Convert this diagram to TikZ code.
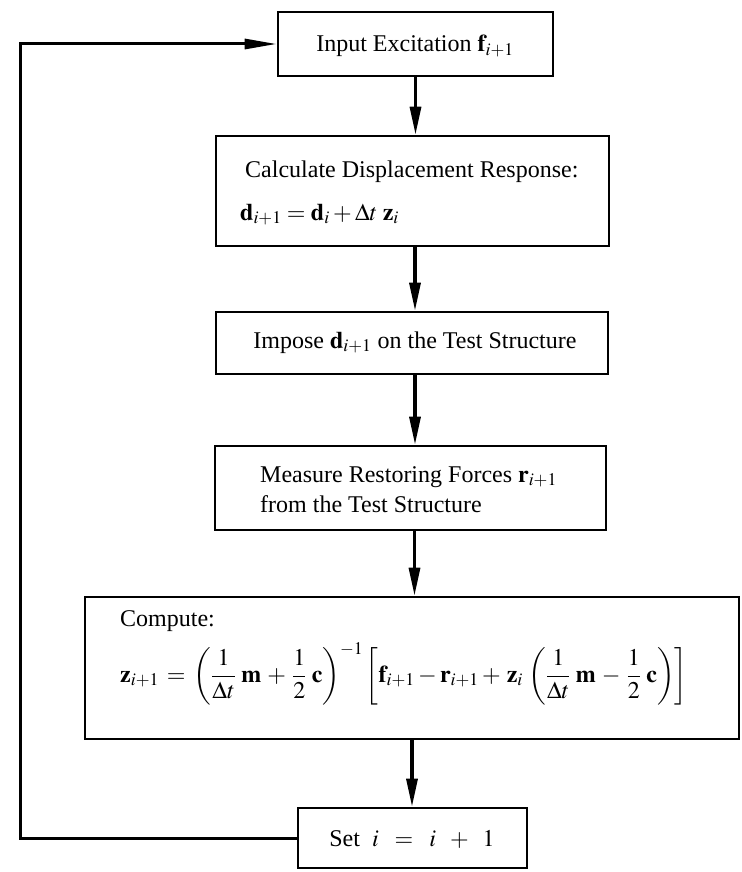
\documentclass[tikz,border=0pt]{standalone}
\usepackage{mathptmx}
\usepackage{fontspec}
\setmainfont{Liberation Serif}
\usetikzlibrary{arrows.meta,calc}
\begin{document}
\begin{tikzpicture}[x=1pt,y=-1pt,
  box/.style={draw, line width=2.6pt, inner sep=0pt},
  txt/.style={inner sep=0pt, font=\fontsize{24}{29}\selectfont},
  arr/.style={line width=3.2pt, -{Triangle[length=28pt,width=11pt]}},
  back/.style={line width=3pt, -{Triangle[length=32pt,width=10pt]}}
]
\useasboundingbox (0,0) rectangle (741,872);
% boxes
\node[box, minimum width=275pt, minimum height=64pt] (b1) at (415.5,44) {};
\node[box, minimum width=393pt, minimum height=110pt] (b2) at (412.5,191) {};
\node[box, minimum width=392pt, minimum height=62pt] (b3) at (412,343) {};
\node[box, minimum width=391pt, minimum height=84pt] (b4) at (410.5,488) {};
\node[box, minimum width=654pt, minimum height=142pt] (b5) at (412,668) {};
\node[box, minimum width=229pt, minimum height=60pt] (b6) at (412.5,838) {};
% texts
\node[txt, anchor=base] (t1) at (415,52) {Input Excitation $\mathbf{f}_{i+1}$};
\node[txt, anchor=base west] (t2a) at (245,177) {Calculate Displacement Response:};
\node[txt, anchor=base west] (t2b) at (240,220) {$\mathbf{d}_{i+1} = \mathbf{d}_i + \Delta t\;\mathbf{z}_i$};
\node[txt, anchor=base] (t3) at (415,348) {Impose $\mathbf{d}_{i+1}$ on the Test Structure};
\node[txt, anchor=base west] (t4a) at (260,482) {Measure Restoring Forces $\mathbf{r}_{i+1}$};
\node[txt, anchor=base west] (t4b) at (260,512) {from the Test Structure};
\node[txt, anchor=base west] (t5a) at (120,626) {Compute:};
\node[txt, anchor=base west] (t5b) at (120,682) {\smash{$\displaystyle \mathbf{z}_{i+1}\,=\,\bigg(\frac{1}{\Delta t}\;\mathbf{m} \,+\, \frac{1}{2}\;\mathbf{c}\bigg)^{\smash{-1}}\,\bigg[\mathbf{f}_{i+1} - \mathbf{r}_{i+1} + \,\mathbf{z}_i\;\bigg(\frac{1}{\Delta t}\;\mathbf{m} \,-\, \frac{1}{2}\;\mathbf{c}\bigg)\bigg]$}};
\node[txt, anchor=base] (t6) at (412,846) {Set\ \ $i\;\;=\;\;i\;\;+\;\;1$};
% connectors
\draw[arr] (b1.south) -- (b1.south |- b2.north);
\draw[arr] ([xshift=2.5pt]b2.south) -- ([xshift=2.5pt]b2.south |- b3.north);
\draw[arr] ([xshift=3pt]b3.south) -- ([xshift=3pt]b3.south |- b4.north);
\draw[arr] ([xshift=4pt]b4.south) -- ([xshift=4pt]b4.south |- b5.north);
\draw[arr] (b5.south) -- (b5.south |- b6.north);
\coordinate (lp) at (20,838);
\draw[back] (b6.west) -- (lp) |- (b1.west);
\end{tikzpicture}
\end{document}
